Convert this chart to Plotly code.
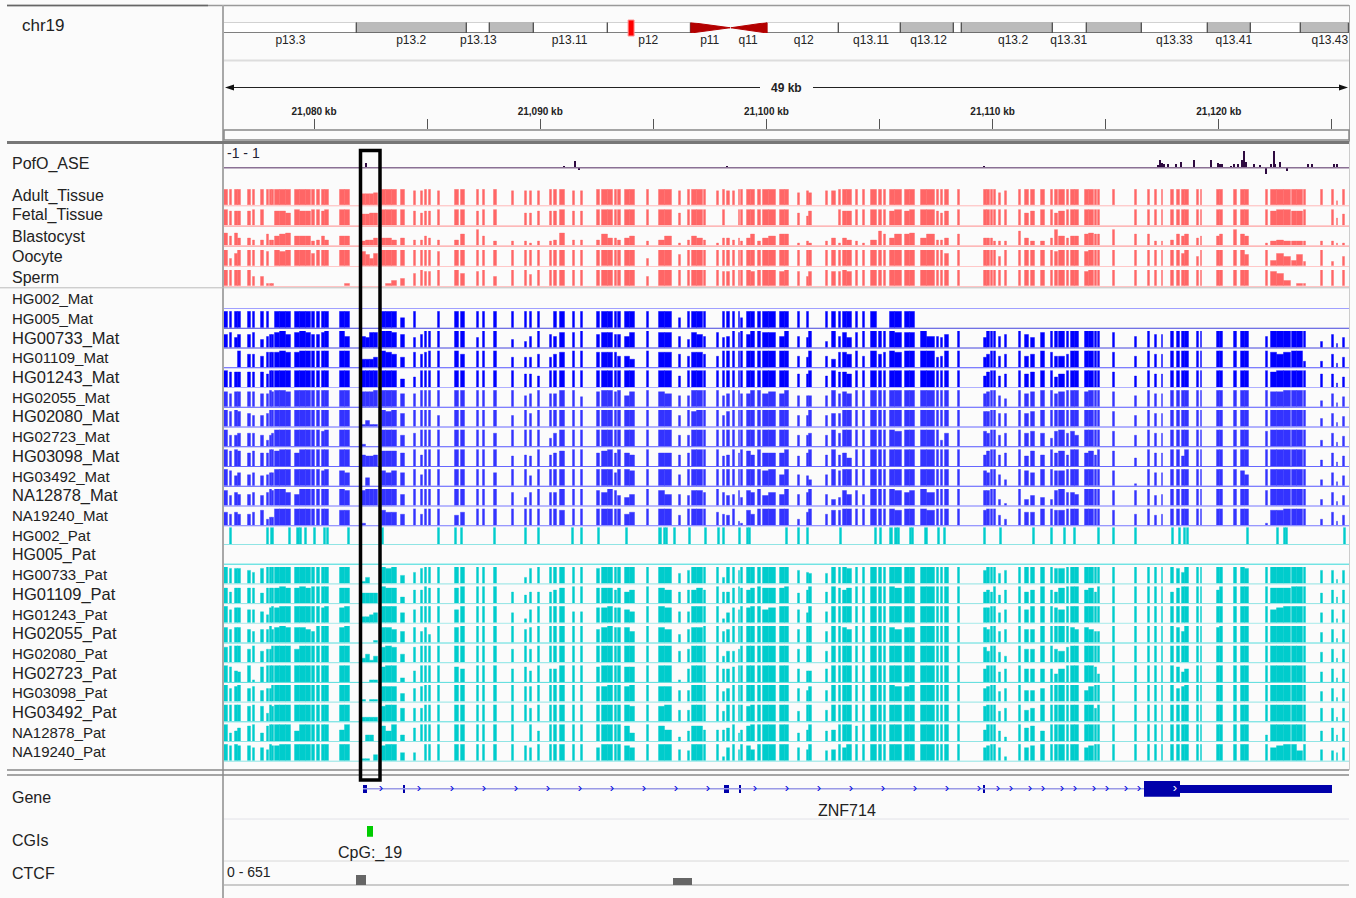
import plotly.graph_objects as go

W, H = 1356, 898
WINDOW_START_KB = 21076.02
KB_PER_BIN = 0.04421
WINDOW_BINS = 1125
TICK_KB = [21080, 21085, 21090, 21095, 21100, 21105, 21110, 21115, 21120, 21125]
TICK_TEXT = ["<b>21,080 kb</b>", "", "<b>21,090 kb</b>", "", "<b>21,100 kb</b>", "", "<b>21,110 kb</b>", "", "<b>21,120 kb</b>", ""]

BAND_NAMES = ["p13.3","p13.2","p13.13","p13.12","p13.11","p12","q12","q13.11","q13.12","q13.13","q13.2","q13.31","q13.32","q13.33","q13.41","q13.42","q13.43"]
BAND_START_MB = [0,6.93,12.66,13.88,16.15,20.0,28.29,32.04,35.27,38.03,38.44,43.18,44.95,47.82,51.23,53.5,56.1]
BAND_END_MB = [6.93,12.66,13.88,16.15,20.0,24.32,32.04,35.27,38.03,38.44,43.18,44.95,47.82,51.23,53.5,56.1,58.6]
BAND_GRAY = [0,1,0,1,0,0,0,0,1,0,1,0,1,0,1,0,1]
BAND_LABELS = ["p13.3","p13.2","p13.13","p13.11","p12","p11","q11","q12","q13.11","q13.12","q13.2","q13.31","q13.33","q13.41","q13.43"]
BAND_LABEL_MB = [3.46,9.75,13.25,18.0,22.1,25.3,27.3,30.2,33.7,36.7,41.1,44.0,49.5,52.6,57.6]
CENTRO_P_MB = [24.32, 26.36]
CENTRO_Q_MB = [26.4, 28.29]
LOCUS_MB = [21.05, 21.36]

# Site intervals, in bins of the 49 kb window
SITE_START = [0,6,11,14,24,29,37,43,46,48,51,56,62,71,76,82,88,93,98,101,116,121,
 138,142,146,150,
 158,162,168,177,190,197,201,205,214,231,237,253,259,270,288,301,306,314,326,330,336,349,357,373,
 378,384,391,394,401,406,423,435,441,455,464,468,473,480,493,499,503,509,515,517,523,527,534,539,545,556,561,574,583,585,602,608,615,619,623,632,639,647,655,660,666,671,681,686,697,703,713,717,721,734,
 760,763,767,770,775,781,795,801,807,817,827,831,835,843,847,851,861,865,871,874,889,911,924,931,938,947,953,958,961,973,977,993,996,1010,1017,1021,1042,1047,1053,1060,1068,1073,1080,1097,1108,1113,1119]
SITE_END = [4,8,14,17,27,31,40,45,48,50,56,62,67,76,82,87,91,96,101,105,121,126,
 142,146,150,154,
 162,168,173,181,192,199,203,207,216,235,241,255,261,273,290,303,308,316,328,333,341,351,359,376,
 384,389,393,397,406,411,425,441,448,457,466,473,479,482,495,501,506,511,516,519,527,531,537,545,552,561,565,576,585,588,604,612,617,623,628,634,641,653,658,662,671,678,686,691,703,711,715,719,725,736,
 763,766,769,772,777,783,797,805,811,821,829,834,841,845,851,855,865,870,873,876,891,913,926,933,939,950,956,961,965,975,978,996,999,1013,1021,1025,1044,1053,1060,1067,1073,1079,1082,1099,1110,1114,1121]

# Methylation level per site, 0-9; a site not listed is at 9
ADULT_TISSUE = {138:6,142:6,146:6,150:7,190:8,197:8,214:8,288:8,301:8,306:8,314:8,349:8,357:8,455:8,493:8,503:8,509:8,574:7,583:8,585:7,602:8,608:8,775:7,781:8,1113:2}
FETAL_TISSUE = {43:0,46:0,48:0,138:6,142:6,146:7,150:7,6:8,11:8,14:8,24:8,51:8,56:8,62:7,76:8,82:8,98:8,288:0,190:8,197:7,201:8,205:8,253:8,301:7,306:7,314:8,326:8,330:8,349:8,357:8,493:0,503:0,509:0,455:7,574:7,583:5,585:8,602:0,608:0,615:9,619:8,623:8,666:8,681:8,713:8,717:7,721:8,775:9,801:7,807:8,831:7,835:8,889:0,1097:0,1113:4,1119:6,1047:8,1068:8,1073:8}
BLASTOCYST = {0:7,6:5,11:7,14:4,24:4,29:3,37:3,43:6,46:3,48:3,51:5,56:6,62:7,71:5,76:5,82:5,88:2,93:3,98:5,101:3,116:5,121:5,138:2,142:3,146:3,150:4,158:4,162:4,168:3,177:4,190:3,197:3,201:5,205:4,214:3,231:3,237:6,253:9,259:5,270:2,288:2,301:2,306:1,314:2,326:2,330:3,336:7,349:3,357:3,373:3,378:6,384:4,391:4,394:3,401:4,406:5,423:2,435:3,441:5,455:1,464:3,468:5,473:4,480:3,493:1,499:4,503:4,509:3,515:4,517:2,523:4,527:6,534:2,539:4,545:5,556:6,561:6,574:1,583:2,585:1,602:2,608:4,615:1,619:4,623:3,632:2,639:1,647:3,655:8,660:6,666:4,671:6,681:6,686:7,697:4,703:6,713:3,717:3,721:4,734:6,760:4,763:4,767:4,770:2,775:2,781:2,795:8,801:4,807:2,817:2,827:4,831:9,835:5,843:4,847:5,851:5,861:6,865:7,871:6,874:6,889:9,911:6,924:6,931:2,938:2,947:3,953:6,958:5,961:6,973:4,977:5,993:5,996:6,1010:9,1017:6,1021:5,1042:1,1047:2,1053:3,1060:2,1068:2,1073:2,1080:2,1097:2,1108:2,1113:1,1119:1}
OOCYTE = {0:9,6:4,11:7,14:9,29:9,43:8,46:0,48:0,51:9,56:8,62:9,88:7,93:9,138:8,142:6,146:4,150:7,197:9,205:9,214:8,231:9,237:9,423:4,455:6,574:9,602:9,721:7,775:5,781:9,801:9,827:9,831:8,835:9,861:8,865:9,923:9,938:9,953:9,958:7,973:5,1047:3,1053:7,1060:5,1068:3,1073:6,1080:2,1097:9,1108:2,1113:0,1119:5,1017:9,1021:6}
SPERM = {0:9,6:9,11:9,14:9,24:9,29:5,37:5,43:1,46:1,48:1,51:0,56:0,62:0,71:0,76:0,82:0,88:0,93:0,98:0,101:0,116:0,121:1,138:0,142:0,146:0,150:0,158:0,162:1,168:3,177:4,190:7,197:9,201:8,205:8,214:9,237:7,253:8,259:9,270:5,306:6,423:5,499:8,503:8,527:8,556:8,574:8,583:5,585:8,608:8,615:8,623:8,861:8,1042:9,1047:8,1053:7,1060:3,1068:0,1073:1,1080:1,1113:0}
HG005_MAT_PRESENT = [0,6,11,14,24,29,37,43,51,56,62,71,76,82,88,93,98,101,116,121,158,162,168,177,190,214,231,237,253,259,270,288,301,306,314,330,336,349,357,373,378,384,391,394,401,406,423,435,441,455,464,468,473,480,499,503,509,515,517,523,527,534,539,545,556,561,574,583,602,608,615,619,623,632,639,647,666,671,681,686]
HG005_MAT_LOW = {177:5,455:5,517:5}

BLUE_COMMON = {6:8,14:8,24:7,29:8,37:7,43:7,177:6,455:6,574:6,583:7,602:6,615:8,760:6,763:8,775:6,781:7,801:7,807:8,889:8,911:6,931:7,938:7,1097:3,1108:7,1113:2,1119:5}
HG00733_MAT = {138:6,142:5,146:8,150:8,0:7,11:5,14:7,37:4,43:6,46:7,48:7,51:8,62:7,71:8,82:8,88:7,93:7,98:8,121:6,168:8,177:7,190:5,197:7,253:5,288:4,301:3,306:6,326:7,330:6,336:8,349:8,373:7,378:8,384:8,391:7,394:7,401:6,406:8,435:8,441:8,464:4,468:8,473:7,480:6,493:8,499:5,503:6,515:8,523:7,539:8,545:8,556:6,583:5,602:3,615:6,619:8,623:5,632:8,671:8,681:8,686:8,703:6,713:6,717:5,721:7,760:5,763:9,807:5,817:8,1042:6}
HG01109_MAT = {0:0,6:0,11:0,14:9,24:7,29:7,37:6,43:8,46:8,48:8,51:8,62:8,71:8,138:4,142:4,146:4,150:5,162:8,168:7,177:5,190:8,197:7,201:8,237:7,288:5,301:5,306:5,314:7,326:5,330:7,336:8,373:8,378:8,384:8,391:8,394:6,401:6,406:4,435:8,441:8,455:7,464:6,468:8,473:8,480:7,493:6,583:5,602:6,608:4,619:8,623:7,639:6,655:7,660:8,671:8,713:5,717:6,760:5,763:7,801:6,807:7,827:8,831:6,835:6,843:7,1047:8,1053:7,1060:8,1080:3,1097:3}
HG01243_MAT = {11:8,24:8,37:8,43:7,177:4,190:5,301:7,306:7,314:6,574:7,619:8,623:7,801:7,831:5,835:7,1047:8,1097:7,760:6}
HG02055_MAT = {0:8,6:7,11:8,24:8,37:7,43:7,48:8,51:9,56:9,62:8,138:8,142:8,146:8,177:7,190:7,301:6,306:7,326:7,330:7,357:5,373:8,391:8,401:6,406:8,435:8,441:7,464:6,499:6,503:7,517:7,523:7,539:7,545:8,556:7,583:6,585:6,615:7,619:8,623:7,760:7,763:8,775:6,781:4,801:7,807:8,831:7,835:8,861:8,1047:8,1053:8}
HG02080_MAT = {24:7,29:6,37:6,43:7,138:1,142:3,146:1,150:1,162:8,177:7,214:6,288:6,306:7,468:8,499:6,503:8,583:6,602:6,608:7,615:7,760:8,775:7,781:7,1097:4}
HG02723_MAT = {6:6,11:6,14:7,24:7,29:7,37:6,43:3,46:6,48:7,98:8,138:1,142:0,146:0,150:0,177:6,190:7,270:7,301:9,306:9,326:4,330:7,384:9,401:9,464:6,583:6,585:7,615:7,671:8,703:9,717:3,721:7,760:8,763:7,817:7,827:4,831:8,843:7,847:8,851:6,1042:8,1113:2}
HG03098_MAT = {24:7,37:7,43:7,51:8,56:9,71:7,76:9,116:9,138:6,142:5,146:5,150:6,158:8,162:8,168:8,177:7,197:6,288:5,301:6,306:5,326:6,330:7,336:8,373:7,378:8,391:7,401:7,406:6,435:7,441:7,464:7,499:5,503:6,511:7,515:7,523:8,527:6,539:7,545:7,556:7,574:5,583:7,615:6,619:7,623:4,801:5,807:8,817:6,831:7,835:8,843:6,861:7,865:8,871:6,911:4,953:9,958:5}
HG03492_MAT = {6:8,11:5,14:7,24:6,29:7,37:5,43:6,46:7,48:7,98:8,116:8,121:7,138:0,142:4,146:0,150:0,158:8,162:7,168:8,177:7,197:6,270:7,306:5,345:7,391:7,406:8,539:8,556:6,583:5,585:3,760:8,763:7,775:6,781:3,801:8,807:7,831:8,835:8,911:1,1017:8,1021:6}
NA12878_MAT = {0:8,6:5,11:7,14:6,24:6,29:7,37:5,43:7,48:8,62:7,71:6,76:9,121:8,138:8,142:9,177:6,288:7,301:4,306:7,326:7,330:7,336:9,373:8,378:7,391:8,394:5,401:4,406:6,435:8,441:6,464:5,468:8,473:8,480:7,499:7,503:5,509:6,515:8,517:4,523:8,527:7,539:5,545:7,556:6,574:6,583:7,608:3,615:4,619:8,623:6,632:8,639:6,671:8,681:7,686:8,703:7,760:8,763:8,775:3,781:1,795:9,801:3,807:5,817:4,827:3,831:8,835:9,843:7,847:7,851:6,911:8,931:5,938:6,1042:8,1097:3}
NA19240_MAT = {0:7,6:6,11:7,14:6,24:6,29:7,37:8,43:3,46:4,48:4,116:8,121:8,138:1,142:0,146:0,150:0,158:8,162:7,168:7,177:6,197:6,231:5,237:7,336:8,384:9,401:6,406:7,455:5,493:7,499:6,503:5,515:2,517:1,523:8,527:6,574:3,583:7,602:6,608:8,615:8,671:8,703:8,760:8,763:9,775:5,781:3,801:7,807:7,831:8,835:8,931:5,938:6,1042:1,1047:8,1053:8,1097:3}

TEAL_COMMON = {24:7,37:7,43:7,177:5,190:7,455:6,574:7,602:6,760:7,775:5,781:7,1097:5,1108:7,1113:2,1119:7}
HG00733_PAT = {138:1,142:3,146:0,150:0,6:8,11:8,14:8,24:7,29:6,37:8,43:9,162:8,177:4,190:6,197:8,288:0,301:3,306:8,373:8,401:9,455:5,464:7,499:3,515:7,574:7,583:6,585:5,602:5,608:9,619:9,623:8,831:8,835:8,871:9,953:8,958:6,1017:9,1021:8,1097:7,1113:2}
HG01109_PAT = {0:8,6:6,11:8,14:8,24:8,29:8,37:5,43:8,46:8,48:8,51:8,56:9,62:8,71:8,76:9,82:8,116:8,121:8,138:5,142:5,146:5,150:5,158:9,162:8,168:8,177:3,190:7,197:7,201:9,205:8,214:8,231:8,237:9,288:6,301:4,306:6,314:6,326:6,330:7,336:8,373:8,378:8,384:8,391:7,394:8,401:6,406:7,435:8,441:7,464:7,468:7,473:8,480:7,499:6,503:6,509:8,517:8,523:7,527:8,539:8,545:8,556:8,574:5,583:7,602:6,615:8,619:7,623:8,671:8,760:6,763:7,767:6,775:4,801:6,807:7,827:7,831:6,835:8,861:7,865:8,871:6,947:6,953:8,993:7,1047:8,1053:8,1060:8,1097:5,1113:3}
HG01243_PAT = {6:7,11:8,14:8,24:7,29:7,37:6,43:4,46:8,51:8,56:9,98:8,116:8,138:3,142:3,146:4,150:5,177:5,190:7,231:7,237:9,288:5,301:2,306:7,349:6,357:6,373:8,378:8,391:8,394:8,401:7,406:6,435:9,441:8,455:6,464:6,499:2,503:5,509:8,515:7,523:8,539:7,545:8,583:5,760:8,763:8,775:5,801:7,831:8,835:7,1097:5,1047:7,1053:8}
HG02055_PAT = {0:8,6:7,11:8,14:8,24:7,29:6,37:7,43:7,48:7,51:8,62:8,71:8,76:8,82:7,88:6,116:8,138:0,142:0,146:0,150:1,158:8,162:8,168:7,177:6,190:8,197:6,201:8,205:4,231:8,301:7,306:8,373:7,378:8,391:8,394:8,401:8,406:6,435:8,441:7,455:4,464:7,468:8,473:8,499:6,503:7,574:7,619:8,623:7,666:8,671:7,681:8,686:8,760:8,763:7,775:6,801:7,807:7,847:8,851:7,861:8,865:7,871:6,874:6,953:8,958:6,993:8}
HG02080_PAT = {0:8,43:7,37:6,46:7,62:9,71:7,138:2,142:4,146:1,150:3,158:8,162:9,168:8,177:4,190:8,288:7,306:7,327:7,464:7,499:3,503:6,509:6,515:7,760:8,763:6,775:5,781:3,801:7,807:7,831:7,835:6,843:8}
HG02723_PAT = {0:9,6:8,11:6,14:5,24:9,29:1,37:8,43:9,46:9,51:9,138:0,142:0,146:1,150:1,158:8,177:2,190:6,231:8,237:7,288:7,301:8,306:6,326:7,330:7,373:8,401:8,406:8,455:1,464:7,499:7,503:7,509:8,523:9,583:6,585:6,602:7,760:7,775:5,781:7,801:7,807:7,817:7,827:7,831:4,835:7,871:8,874:4,953:8,958:5,961:7}
HG03098_PAT = {6:7,11:8,24:7,29:8,37:6,43:7,46:7,138:1,142:0,146:1,150:1,158:8,162:8,168:8,177:4,190:7,197:8,301:8,306:8,373:8,378:8,401:8,435:8,441:8,464:6,499:5,503:7,583:6,585:8,671:8,681:8,760:7,763:8,801:6,807:6,817:7,861:6,865:8,953:7,958:8}
HG03492_PAT = {24:8,37:8,43:4,48:8,138:2,142:2,146:2,150:2,158:8,162:9,177:7,197:7,205:9,306:7,349:9,401:9,406:8,435:8,464:6,499:5,523:8,574:5,760:8,801:6,807:7,861:9,871:7,1097:7,1113:2}
NA12878_PAT = {6:4,11:5,14:7,24:8,29:9,37:4,43:8,51:9,71:5,76:9,116:6,121:9,138:0,142:3,146:3,150:0,158:8,162:5,177:3,190:7,288:9,301:0,306:9,314:5,401:8,406:4,435:8,441:6,455:2,464:5,468:8,473:8,480:6,493:6,499:6,503:7,515:4,517:6,523:8,527:9,574:4,583:6,602:5,608:6,632:8,760:6,775:5,781:2,801:7,807:8,817:5,1042:3,1097:5,1113:3}
NA19240_PAT = {0:9,6:8,14:8,24:8,29:7,37:7,43:6,48:8,51:8,138:1,142:1,146:0,150:3,158:8,177:4,190:4,197:0,301:8,306:7,373:7,401:8,406:7,464:5,499:2,503:7,515:6,523:8,527:6,574:7,583:6,602:5,608:6,619:7,760:7,763:8,775:7,781:2,801:7,807:8,861:7,865:8,1047:7,1053:8,1073:5,1097:6,1108:5,1113:4}

HG002_PAT_START = [6,43,47,65,73,76,81,90,100,103,124,158,214,231,237,270,301,314,348,357,374,402,435,440,442,450,465,481,494,499,515,523,525,562,574,583,616,651,656,666,671,674,686,688,701,714,720,760,776,809,827,840,850,874,889,911,948,955,960,963,1023,1053,1060,1062,1120]
HG002_PAT_END = [8,45,50,67,76,78,83,92,102,105,126,160,216,233,239,272,303,316,350,359,376,404,438,442,444,452,467,483,496,501,517,525,527,564,576,585,618,653,658,669,674,676,688,690,704,716,722,762,778,811,829,842,852,876,891,913,950,957,962,965,1025,1055,1062,1064,1122]

ASE_BIN = [141,339,350,354,502,759,933,935,937,939,943,951,956,969,986,993,995,997,1006,1009,1013,1017,1019,1021,1029,1035,1041,1046,1049,1050,1055,1062,1083,1087,1109,1112]
ASE_VALUE = [.26,.1,.4,-.14,.1,.08,.16,.44,.28,.24,.24,.24,.32,.44,.48,.28,.2,.2,.12,.2,.2,.44,1,.32,.2,.16,-.36,.2,1,.24,.32,-.2,.24,.24,.2,.24]

GENE_NAME = "ZNF714"
INTRON_BINS = [139, 920]
EXON_START = [139, 179, 500, 515, 759, 920, 956]
EXON_END = [143, 181, 505, 516.5, 761, 956, 1108]
EXON_HALF = [.5, .5, .5, .5, .5, 1, .55]
ARROW_BINS = [157,195,228,260,292,324,356,388,420,452,484,531,563,595,627,659,691,723,755,774,787,806,819,838,851,870,883,902,915,951]
ARROW_IS_WHITE = [0]*29 + [1]
CGI_START, CGI_END, CGI_NAME = [143], [149], "CpG:_19"
CTCF_START = [132, 449]
CTCF_END = [141.5, 467.5]
CTCF_VALUE = [335, 228]
HIGHLIGHT_BINS = [136.5, 156]

MAT_TRACKS = [("HG002_Mat",None,15),("HG005_Mat",None,15),("HG00733_Mat",HG00733_MAT,16.5),("HG01109_Mat",HG01109_MAT,15),("HG01243_Mat",HG01243_MAT,16.5),("HG02055_Mat",HG02055_MAT,15),("HG02080_Mat",HG02080_MAT,16.5),("HG02723_Mat",HG02723_MAT,15),("HG03098_Mat",HG03098_MAT,16.5),("HG03492_Mat",HG03492_MAT,15),("NA12878_Mat",NA12878_MAT,16.5),("NA19240_Mat",NA19240_MAT,15)]
PAT_TRACKS = [("HG002_Pat",None,15),("HG005_Pat",None,16),("HG00733_Pat",HG00733_PAT,15),("HG01109_Pat",HG01109_PAT,16.5),("HG01243_Pat",HG01243_PAT,15),("HG02055_Pat",HG02055_PAT,16.5),("HG02080_Pat",HG02080_PAT,15),("HG02723_Pat",HG02723_PAT,16.5),("HG03098_Pat",HG03098_PAT,15),("HG03492_Pat",HG03492_PAT,16.5),("NA12878_Pat",NA12878_PAT,15),("NA19240_Pat",NA19240_PAT,15)]
RED_TRACKS = [("Adult_Tissue",ADULT_TISSUE,16),("Fetal_Tissue",FETAL_TISSUE,16),("Blastocyst",BLASTOCYST,16),("Oocyte",OOCYTE,16),("Sperm",SPERM,16)]

# ---------- layout helpers ----------
def kb(b):
    return WINDOW_START_KB + b * KB_PER_BIN

def vd(top, bottom):
    return [1 - bottom / H, 1 - top / H]

PLOT_L, PLOT_R = 224, 1349
FONT = "Liberation Sans"
fig = go.Figure()
layout = {}
ann = []
shapes = []
next_axis = [1]

def new_y(top, bottom, rng):
    i = next_axis[0]; next_axis[0] += 1
    name = "yaxis" if i == 1 else f"yaxis{i}"
    layout[name] = dict(domain=vd(top, bottom), range=rng, showgrid=False, zeroline=False,
                        showticklabels=False, ticks="", showline=False, fixedrange=True)
    return "y" if i == 1 else f"y{i}"

def label(text, y, size=16, x=12, color="#222"):
    ann.append(dict(text=text, xref="paper", yref="paper", x=(x - 2) / W, y=1 - (y + 0.5) / H, xanchor="left", yanchor="middle",
                    showarrow=False, font=dict(family=FONT, size=size, color=color)))

def hline(y, x0, x1, color, width=1, layer="below"):
    shapes.append(dict(type="line", xref="paper", yref="paper", x0=x0 / W, x1=x1 / W, y0=1 - y / H, y1=1 - y / H,
                       line=dict(color=color, width=width), layer=layer))

def vline(x, y0, y1, color, width=1):
    shapes.append(dict(type="line", xref="paper", yref="paper", x0=x / W, x1=x / W, y0=1 - y0 / H, y1=1 - y1 / H,
                       line=dict(color=color, width=width), layer="below"))

def fringe(color):
    r, g, b = int(color[1:3], 16), int(color[3:5], 16), int(color[5:7], 16)
    return f"rgba({r},{g},{b},0.4)"

def add_sites(yname, starts, ends, vals, color):
    xs, ws, ys = [], [], []
    for s, e, v in zip(starts, ends, vals):
        if v > 0:
            xs.append(kb((s + e) / 2)); ws.append((e - s) * KB_PER_BIN); ys.append(v)
    fig.add_trace(go.Bar(x=xs, y=ys, width=ws, yaxis=yname, xaxis="x", marker=dict(color=color, line=dict(width=1, color=fringe(color))), showlegend=False, hoverinfo="skip"))

def track_values(over, common=None):
    merged = dict(common or {})
    merged.update(over or {})
    return [merged.get(s, 9) for s in SITE_START]

def add_track(name, baseline, h, vals, color, basecolor, size, y_text, starts=None, ends=None):
    yn = new_y(baseline - h, baseline, [0, 9])
    add_sites(yn, starts or SITE_START, ends or SITE_END, vals, color)
    hline(baseline + 0.5, PLOT_L, PLOT_R, basecolor, 1, "above")
    label(name, y_text, size=size)

# ---------- ruler ----------
ruler_y = new_y(119, 129, [0, 1])
layout["xaxis"] = dict(domain=[PLOT_L / W, PLOT_R / W], range=[kb(0), kb(WINDOW_BINS)], anchor=ruler_y, showgrid=False, zeroline=False,
                       tickmode="array", tickvals=TICK_KB, ticktext=TICK_TEXT, ticks="inside", ticklen=10, tickcolor="#555", tickwidth=1,
                       ticklabelposition="inside", ticklabelstandoff=1, tickfont=dict(family=FONT, size=10, color="#222"), showline=False, fixedrange=True)
fig.add_trace(go.Scatter(x=[kb(0)], y=[0], yaxis=ruler_y, xaxis="x", mode="markers", marker=dict(opacity=0), showlegend=False, hoverinfo="skip"))

# ---------- ideogram ----------
ideo_y = new_y(22.5, 33, [0, 1])
layout["xaxis2"] = dict(domain=[PLOT_L / W, PLOT_R / W], range=[0, 58.6], anchor=ideo_y, showgrid=False, zeroline=False,
                        tickmode="array", tickvals=BAND_LABEL_MB, ticktext=BAND_LABELS, ticks="", showline=False, ticklabelstandoff=-2,
                        tickfont=dict(family=FONT, size=12, color="#222"), fixedrange=True)
fig.add_trace(go.Bar(x=[(a + b) / 2 for a, b in zip(BAND_START_MB, BAND_END_MB)], y=[1] * len(BAND_NAMES),
                     width=[b - a for a, b in zip(BAND_START_MB, BAND_END_MB)], xaxis="x2", yaxis=ideo_y, text=BAND_NAMES, textposition="none",
                     marker=dict(color=["#bbbbbb" if g else "#ffffff" for g in BAND_GRAY], line=dict(color="#555", width=1.2)), showlegend=False, hoverinfo="skip"))
fig.add_trace(go.Scatter(x=[CENTRO_P_MB[0], CENTRO_P_MB[0], CENTRO_P_MB[1], CENTRO_P_MB[0]], y=[0, 1, .5, 0], xaxis="x2", yaxis=ideo_y, mode="lines", fill="toself",
                         fillcolor="#b30000", line=dict(color="#b30000", width=1), showlegend=False, hoverinfo="skip"))
fig.add_trace(go.Scatter(x=[CENTRO_Q_MB[1], CENTRO_Q_MB[1], CENTRO_Q_MB[0], CENTRO_Q_MB[1]], y=[0, 1, .5, 0], xaxis="x2", yaxis=ideo_y, mode="lines", fill="toself",
                         fillcolor="#b30000", line=dict(color="#b30000", width=1), showlegend=False, hoverinfo="skip"))
shapes.append(dict(type="rect", xref="x2", yref="paper", x0=LOCUS_MB[0], x1=LOCUS_MB[1], y0=1 - 36 / H, y1=1 - 20 / H,
                   fillcolor="#ff0000", line=dict(color="#ff9090", width=1)))

# ---------- PofO_ASE ----------
ase_y = new_y(151, 184.4, [-1, 1])
fig.add_trace(go.Bar(x=[kb(b + 1) for b in ASE_BIN], y=ASE_VALUE, width=[2 * KB_PER_BIN] * len(ASE_BIN), xaxis="x", yaxis=ase_y,
                     marker=dict(color="#2e0a40", line=dict(width=0)), showlegend=False, hoverinfo="skip"))
hline(167.7, PLOT_L, PLOT_R, "#8a7094", 1.5, "above")
label("PofO_ASE", 164)
label("-1 - 1", 152.5, size=14, x=227, color="#223")

# ---------- methylation tracks ----------
RED_BASE = [205.3, 225.6, 245.6, 266, 286]
RED_LINE = ["#ffb8b8", "#ff8c8c", "#ff8c8c", "#ffc8c8", "#ffc4c4"]
RED_TEXT = [195, 215, 236, 256, 277]
for (name, over, size), b, c, t in zip(RED_TRACKS, RED_BASE, RED_LINE, RED_TEXT):
    add_track(name, b, 16, track_values(over), "#ff6666", c, size, t)

MAT_BASE = [308 + 19.75 * i for i in range(12)]
MAT_LINE = ["#a0a0ff", "#4444dd", "#4444dd", "#5555ff", "#b0b0ff", "#5555ff", "#6666ff", "#5555ff", "#6666ff", "#5555ff", "#7777ff", "#7777ff"]
for i, ((name, over, size), b, c) in enumerate(zip(MAT_TRACKS, MAT_BASE, MAT_LINE)):
    color = "#0000ff" if i < 5 else "#3333ff"
    if name == "HG002_Mat":
        vals = [0] * len(SITE_START)
    elif name == "HG005_Mat":
        vals = [HG005_MAT_LOW.get(s, 9) if s in HG005_MAT_PRESENT else 0 for s in SITE_START]
    else:
        vals = track_values(over, BLUE_COMMON)
    add_track(name, b, 16.5, vals, color, c, size, 298 + 19.75 * i)

PAT_BASE = [544 + 19.7 * i for i in range(12)]
PAT_LINE = ["#90e4e4", "#33d8d8", "#90e4e4", "#90e4e4", "#a8ecec", "#55dcdc", "#88e4e4", "#55dcdc", "#90e4e4", "#55dcdc", "#90e4e4", "#90e4e4"]
for i, ((name, over, size), b, c) in enumerate(zip(PAT_TRACKS, PAT_BASE, PAT_LINE)):
    y_text = 534.7 + 19.7 * i
    if name == "HG002_Pat":
        add_track(name, b, 16.5, [9] * len(HG002_PAT_START), "#00cccc", c, size, y_text, HG002_PAT_START, HG002_PAT_END)
    elif name == "HG005_Pat":
        add_track(name, b, 16.5, [0] * len(SITE_START), "#00cccc", c, size, y_text)
    else:
        add_track(name, b, 16.5, track_values(over, TEAL_COMMON), "#00cccc", c, size, y_text)

# ---------- gene ----------
gene_y = new_y(780.7, 796.7, [-1, 1])
fig.add_trace(go.Bar(x=[kb((a + b) / 2) for a, b in zip(EXON_START, EXON_END)], y=[2 * h for h in EXON_HALF], base=[-h for h in EXON_HALF],
                     width=[(b - a) * KB_PER_BIN for a, b in zip(EXON_START, EXON_END)], xaxis="x", yaxis=gene_y,
                     marker=dict(color="#0000aa", line=dict(width=0)), showlegend=False, hoverinfo="skip"))
fig.add_trace(go.Scatter(x=[kb(INTRON_BINS[0]), kb(INTRON_BINS[1])], y=[0, 0], xaxis="x", yaxis=gene_y, mode="lines", line=dict(color="#9a9ae6", width=1.5), showlegend=False, hoverinfo="skip"))
fig.add_trace(go.Scatter(x=[kb(b) for b in ARROW_BINS], y=[0] * len(ARROW_BINS), xaxis="x", yaxis=gene_y, mode="text", text=["›"] * len(ARROW_BINS), textposition="middle center",
                         textfont=dict(family=FONT, size=13, color=["#ffffff" if w else "#0000dd" for w in ARROW_IS_WHITE]),
                         showlegend=False, hoverinfo="skip"))
ann.append(dict(text=GENE_NAME, xref="x", yref="paper", x=kb(623), y=1 - 810 / H, yanchor="middle", showarrow=False, font=dict(family=FONT, size=16, color="#222")))
label("Gene", 797)

# ---------- CGIs ----------
cgi_y = new_y(825.7, 836.7, [0, 1])
fig.add_trace(go.Bar(x=[kb((a + b) / 2) for a, b in zip(CGI_START, CGI_END)], y=[1], width=[(b - a) * KB_PER_BIN for a, b in zip(CGI_START, CGI_END)],
                     xaxis="x", yaxis=cgi_y, marker=dict(color="#00cc00", line=dict(width=0)), showlegend=False, hoverinfo="skip"))
ann.append(dict(text=CGI_NAME, xref="x", yref="paper", x=kb(146), y=1 - 852.5 / H, yanchor="middle", showarrow=False, font=dict(family=FONT, size=16, color="#222")))
label("CGIs", 840)

# ---------- CTCF ----------
ctcf_y = new_y(865, 885, [0, 651])
fig.add_trace(go.Bar(x=[kb((a + b) / 2) for a, b in zip(CTCF_START, CTCF_END)], y=CTCF_VALUE, width=[(b - a) * KB_PER_BIN for a, b in zip(CTCF_START, CTCF_END)],
                     xaxis="x", yaxis=ctcf_y, marker=dict(color="#666666", line=dict(width=0)), showlegend=False, hoverinfo="skip"))
label("0 - 651", 871, size=14, x=227, color="#222")
label("CTCF", 872.5)
label("chr19", 25, size=17, x=22, color="#222")

# ---------- frame ----------
hline(5.5, 7, 1349, "#999999", 1.5)
hline(5.5, 7, 208, "#666666", 1.5)
vline(1349.5, 5, 142, "#aaaaaa", 1)
vline(223, 5, 898, "#a8a8a8", 2)
vline(1349.5, 142, 770, "#cccccc", 1)
hline(60.5, 224, 1349, "#dddddd", 2)
hline(142.5, 7, 1349, "#777777", 3)
hline(287.8, 0, 1349, "#bbbbbb", 1)
hline(770, 7, 1349, "#888888", 1.5)
hline(775, 7, 1349, "#888888", 1.5)
hline(819, 224, 1349, "#e2e2e8", 1)
hline(861, 224, 1349, "#d8d8d8", 1)
hline(885, 224, 1349, "#bbbbbb", 1.5)
shapes.append(dict(type="rect", xref="paper", yref="paper", x0=224 / W, x1=1349 / W, y0=1 - 140 / H, y1=1 - 130 / H, line=dict(color="#888", width=1.5), layer="below"))
hline(87.5, 228, 760, "#222222", 1)
hline(87.5, 813, 1345, "#222222", 1)
for path in [f"M {225/W} {1-87.5/H} L {234/W} {1-84.5/H} L {234/W} {1-90.5/H} Z", f"M {1348/W} {1-87.5/H} L {1339/W} {1-84.5/H} L {1339/W} {1-90.5/H} Z"]:
    shapes.append(dict(type="path", xref="paper", yref="paper", path=path, fillcolor="#111", line=dict(width=0)))
ann.append(dict(text="<b>49 kb</b>", xref="paper", yref="paper", x=786 / W, y=1 - 88 / H, yanchor="middle", showarrow=False, font=dict(family=FONT, size=12, color="#222")))

shapes.append(dict(type="rect", xref="x", yref="paper", x0=kb(HIGHLIGHT_BINS[0]), x1=kb(HIGHLIGHT_BINS[1]), y0=1 - 780 / H, y1=1 - 150.5 / H,
                   line=dict(color="#000000", width=3.5), fillcolor="rgba(0,0,0,0)", layer="above"))

fig.update_layout(width=W, height=H, margin=dict(l=0, r=0, t=0, b=0), paper_bgcolor="#fbfbfb", plot_bgcolor="rgba(0,0,0,0)",
                  showlegend=False, annotations=ann, shapes=shapes, bargap=0, barmode="overlay", **layout)
fig.write_html("out.html", config={"displayModeBar": False},
               post_script="document.body.style.margin='0';document.documentElement.style.overflow='hidden';document.body.style.background='#fbfbfb';")
